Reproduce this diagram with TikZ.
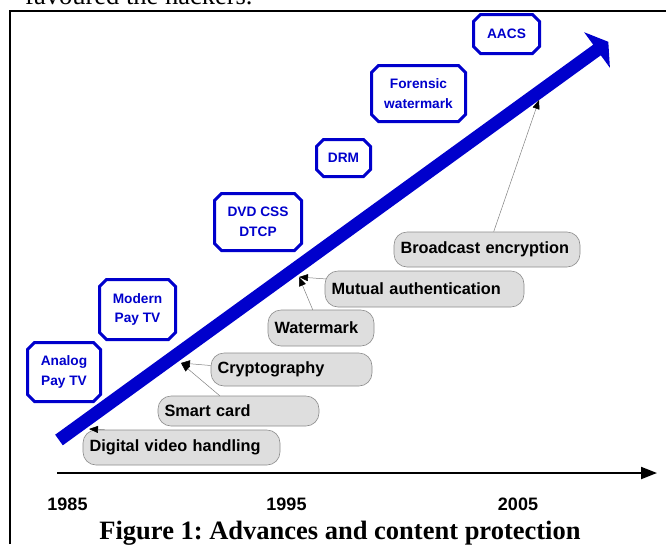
\documentclass[tikz,border=0pt]{standalone}
\usepackage{fontspec}
\setmainfont{Liberation Serif}
\newfontfamily\arialf{Liberation Sans}
\usetikzlibrary{shapes.misc,arrows.meta}
\definecolor{darkblue}{RGB}{0,0,204}
\definecolor{boxgray}{RGB}{222,222,222}
\definecolor{edgegray}{RGB}{140,140,140}
\frenchspacing
\begin{document}
\begin{tikzpicture}[x=1pt,y=-1pt,
  bluebox/.style={chamfered rectangle, chamfered rectangle xsep=3.5pt, chamfered rectangle ysep=3.5pt,
    draw=darkblue, line width=3pt, fill=white, text=darkblue, inner sep=0pt,
    font=\arialf\bfseries\fontsize{13.7}{19.5}\selectfont, align=center},
  graybox/.style={rectangle, draw=edgegray, fill=boxgray, rounded corners=13pt, line width=0.6pt,
    font=\arialf\bfseries\fontsize{16.3}{19}\selectfont, align=left, inner xsep=6.5pt, inner ysep=0pt, text=black},
  conn/.style={draw=gray, line width=0.5pt, -{Triangle[length=9pt,width=7pt,color=black]}},
  year/.style={anchor=base, font=\arialf\bfseries\fontsize{18}{21}\selectfont, inner sep=0pt}
]
\useasboundingbox (0,0) rectangle (666,544);

% text of the page above the frame (cut off)
\node[anchor=base west, font=\fontsize{26.5}{30}\selectfont, inner sep=0pt] (prev) at (25,4) {favoured the hackers.};

% frame
\draw[line width=2.4pt] (10,544) -- (10,11) -- (666,11);

% big blue arrow
\fill[darkblue] (55.2,434.7) -- (593.2,44.7) -- (584.1,32.2) -- (608.3,41.8) -- (609.9,67.8) -- (600.8,55.3) -- (62.8,445.3) -- cycle;

% blue boxes
\node[bluebox, minimum width=73pt, minimum height=59pt] (analog) at (64,372) {Analog\\Pay TV};
\node[bluebox, minimum width=76pt, minimum height=60pt] (modern) at (137.5,309.5) {Modern\\Pay TV};
\node[bluebox, minimum width=87pt, minimum height=57pt] (dvd) at (258,222) {DVD CSS\\DTCP};
\node[bluebox, minimum width=54pt, minimum height=37pt] (drm) at (343.5,158) {DRM};
\node[bluebox, minimum width=94pt, minimum height=56pt] (forensic) at (418.5,93.5) {Forensic\\watermark};
\node[bluebox, minimum width=66pt, minimum height=39pt] (aacs) at (506.5,34) {AACS};

% gray boxes
\node[graybox, minimum height=35pt, text width=184pt] (dig) at (181.5,447.5) {Digital video handling};
\node[graybox, minimum height=30pt, text width=148pt] (smart) at (238.5,411) {Smart card};
\node[graybox, minimum height=33pt, text width=148pt] (crypto) at (291.5,369.5) {Cryptography};
\node[graybox, minimum height=36pt, text width=93pt] (water) at (321,328) {Watermark};
\node[graybox, minimum height=36pt, text width=186pt] (mutual) at (424.5,289) {Mutual authentication};
\node[graybox, minimum height=35pt, text width=173pt] (broad) at (487,249.5) {Broadcast encryption};

% connectors
\coordinate (t1) at (89,429);
\coordinate (t2) at (181,363);
\coordinate (t3) at (299,277);
\coordinate (t4) at (539,100);
\draw[conn] ([xshift=22pt]dig.north west) -- (t1);
\draw[conn] ([xshift=62pt]smart.north west) -- (t2);
\draw[conn] ([yshift=4pt]crypto.west) -- (t2);
\draw[conn] ([xshift=45pt]water.north west) -- (t3);
\draw[conn] ([xshift=2pt,yshift=10pt]mutual.west) -- (t3);
\draw[conn] ([xshift=100pt]broad.north west) -- (t4);

% timeline
\coordinate (tl0) at (57,473);
\coordinate (tl1) at (657,473);
\draw[line width=2pt, -{Triangle[length=16pt,width=12pt]}] (tl0) -- (tl1);

% years
\node[year] (y1985) at (67.5,510) {1985};
\node[year] (y1995) at (286.5,510) {1995};
\node[year] (y2005) at (518,510) {2005};

% caption
\node[anchor=base, font=\bfseries\fontsize{26.5}{30}\selectfont, inner sep=0pt] (cap) at (340,539) {Figure 1: Advances and content protection};
\end{tikzpicture}
\end{document}
